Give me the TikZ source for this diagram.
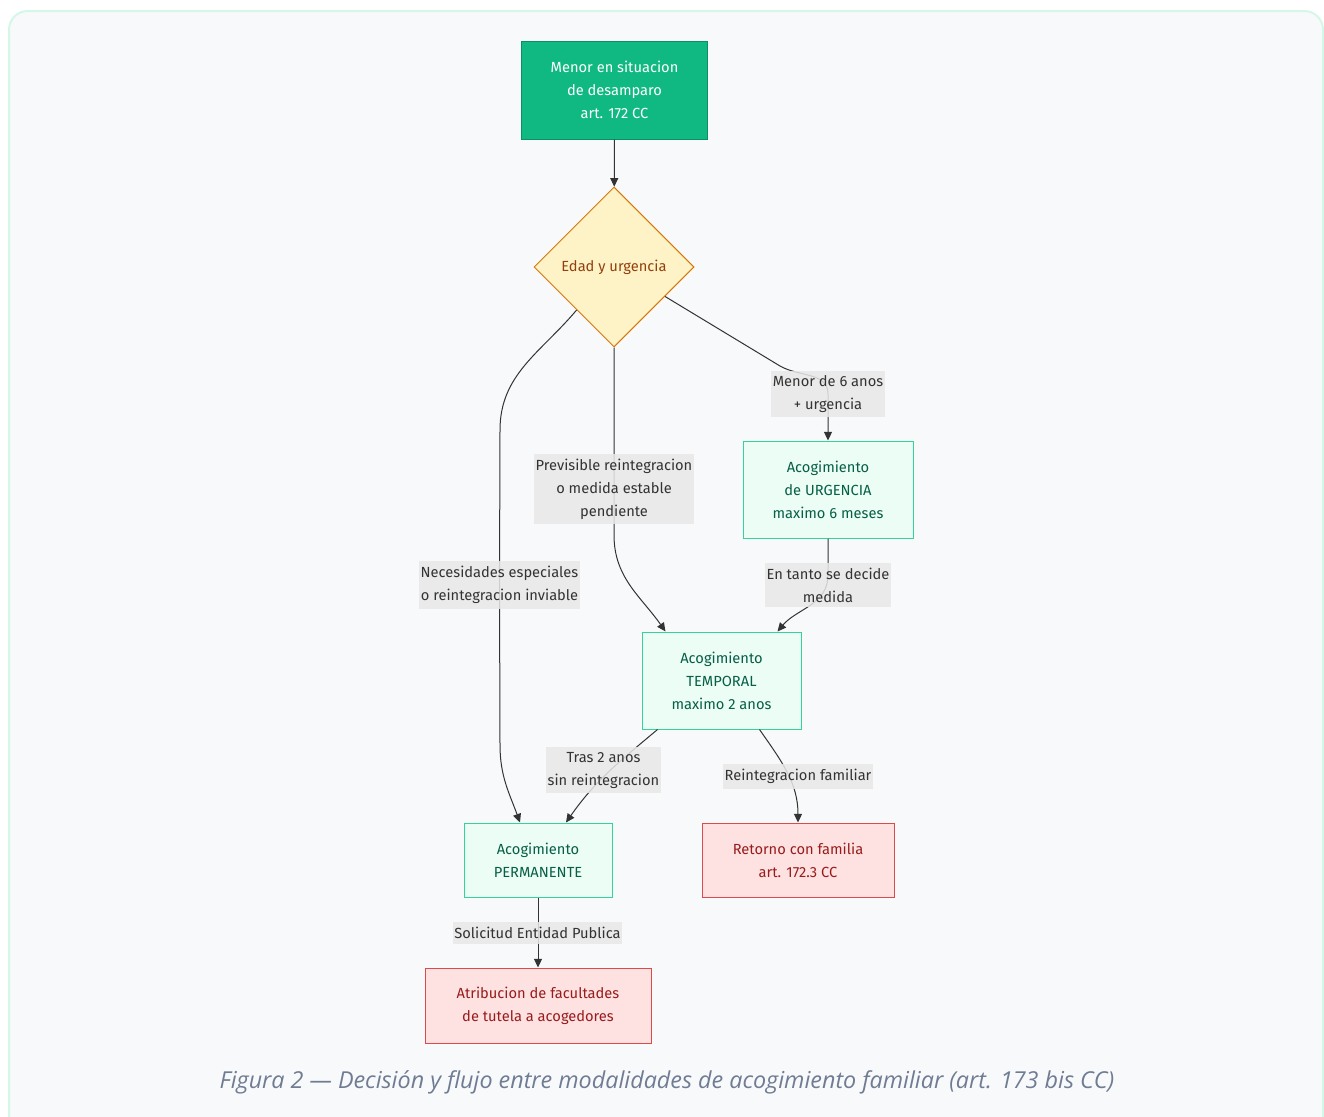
\documentclass[tikz,border=0pt]{standalone}
\usepackage{fontspec}
\setmainfont{Fira Sans}
\newfontfamily\capfont{Open Sans}
\usetikzlibrary{shapes.geometric,arrows.meta,calc}
\definecolor{pagefill}{HTML}{F8F9FB}
\definecolor{pageline}{HTML}{D5F7E8}
\definecolor{startfill}{HTML}{10B981}
\definecolor{startline}{HTML}{0B8F63}
\definecolor{choicefill}{HTML}{FEF3C7}
\definecolor{choiceline}{HTML}{D97706}
\definecolor{choicetext}{HTML}{92400E}
\definecolor{modofill}{HTML}{ECFDF5}
\definecolor{modoline}{HTML}{34D399}
\definecolor{modotext}{HTML}{065F46}
\definecolor{finfill}{HTML}{FEE2E2}
\definecolor{finline}{HTML}{DC4A4A}
\definecolor{fintext}{HTML}{991B1B}
\definecolor{lblfill}{HTML}{E8E8E8}
\definecolor{lbltext}{HTML}{333333}
\definecolor{edge}{HTML}{333333}
\definecolor{captext}{HTML}{707C93}
\begin{document}
\begin{tikzpicture}[x=0.75pt,y=-0.75pt,
    every node/.style={font=\fontsize{11}{17.25}\selectfont,align=center},
    box/.style={rectangle,draw,line width=0.75pt,inner sep=0pt},
    start/.style={box,fill=startfill,draw=startline,text=white},
    modo/.style={box,fill=modofill,draw=modoline,text=modotext},
    fin/.style={box,fill=finfill,draw=finline,text=fintext},
    choice/.style={diamond,draw=choiceline,fill=choicefill,text=choicetext,line width=0.75pt,minimum width=120pt,minimum height=120pt,inner sep=0pt},
    lbl/.style={fill=lblfill,fill opacity=0.85,text opacity=1,text=lbltext,inner xsep=1pt,inner ysep=3.6pt},
    arr/.style={draw=edge,line width=0.75pt,-{Triangle[length=6.5pt,width=6pt]}}]
    \useasboundingbox (0,0) rectangle (1324,1117);
    \path[fill=pagefill,draw=pageline,line width=1.5pt,rounded corners=14] (9,11) rectangle (1323,1140);

    \node[start,minimum width=140pt,minimum height=73.5pt] (menor) at (614.5,90) {Menor en situacion\\de desamparo\\art. 172 CC};
    \node[choice] (edad) at (614,267) {Edad y urgencia};
    \node[modo,minimum width=127.5pt,minimum height=72.75pt] (urg) at (828,489.5) {Acogimiento\\de URGENCIA\\maximo 6 meses};
    \node[modo,minimum width=119.25pt,minimum height=72.75pt] (tmp) at (721.5,680.5) {Acogimiento\\TEMPORAL\\maximo 2 anos};
    \node[modo,minimum width=111pt,minimum height=55.5pt] (prm) at (538,860) {Acogimiento\\PERMANENTE};
    \node[fin,minimum width=144pt,minimum height=55.5pt] (ret) at (798,860) {Retorno con familia\\art. 172.3 CC};
    \node[fin,minimum width=169.5pt,minimum height=56.25pt] (atr) at (538,1005.5) {Atribucion de facultades\\de tutela a acogedores};

    \coordinate (l1) at (828,394);
    \coordinate (l2) at (614,489);
    \coordinate (l3) at (499.5,585);
    \coordinate (l4) at (828,585);
    \coordinate (l5) at (603.5,770);
    \coordinate (l6) at (798,776.5);
    \coordinate (l7) at (537.5,933);

    \path[arr] (menor) -- (edad);
    \path[arr] (edad.-30) -- (780,366) to[out=-30,in=90] (l1) -- (urg);
    \path[arr] (edad.south) -- (l2) -- (614,535) to[out=-90,in=125] ($(tmp.north)+(-56,0)$);
    \path[arr] (edad.-131) to[out=-130,in=90] (500,430) -- (l3) -- (500,745) to[out=-90,in=110] ($(prm.north)+(-18,0)$);
    \path[arr] (urg) -- (828,575) to[out=-90,in=50] ($(tmp.north)+(56,0)$);
    \path[arr] ($(tmp.south)+(-64,0)$) to[out=-140,in=55] ($(prm.north)+(28,0)$);
    \path[arr] ($(tmp.south)+(38,0)$) to[out=-55,in=90] (ret);
    \path[arr] (prm) -- (atr);

    \node[lbl] at (l1) {Menor de 6 anos\\+ urgencia};
    \node[lbl] at (l2) {Previsible reintegracion\\o medida estable\\pendiente};
    \node[lbl] at (l3) {Necesidades especiales\\o reintegracion inviable};
    \node[lbl] at (l4) {En tanto se decide\\medida};
    \node[lbl] at (l5) {Tras 2 anos\\sin reintegracion};
    \node[lbl] at (l6) {Reintegracion familiar};
    \node[lbl] at (l7) {Solicitud Entidad Publica};

    \node[font=\capfont\itshape\fontsize{17.5}{20}\selectfont,text=captext] (cap) at (667,1082) {Figura 2 — Decisión y flujo entre modalidades de acogimiento familiar (art. 173 bis CC)};
\end{tikzpicture}
\end{document}
